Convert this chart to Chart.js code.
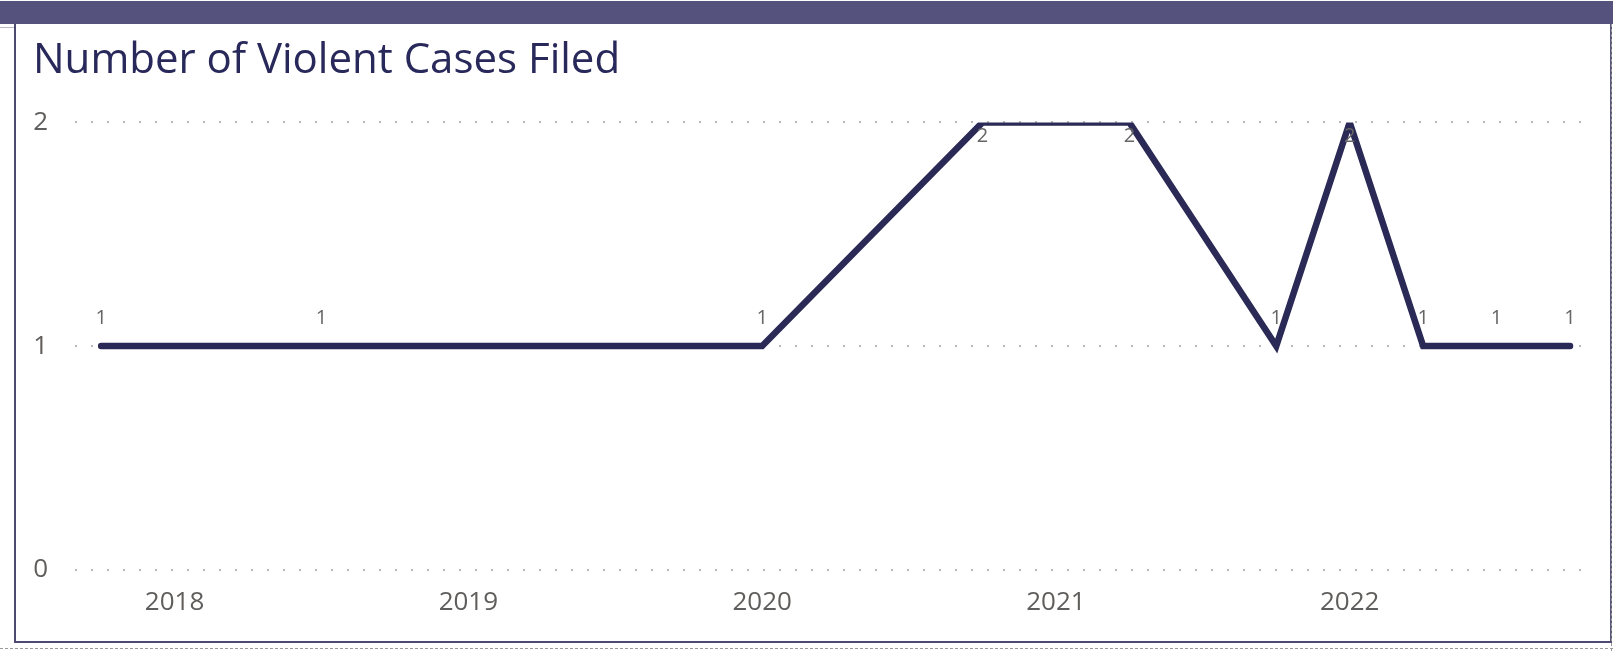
<!DOCTYPE html>
<html>
<head>
<meta charset="utf-8">
<script src="https://cdn.jsdelivr.net/npm/chart.js@4/dist/chart.umd.min.js"></script>
<style>
  html, body { margin: 0; padding: 0; background: #ffffff; }
  body { width: 1613px; height: 651px; position: relative; overflow: hidden; }
  #topbar { position: absolute; left: 0; top: 1px; width: 1613px; height: 23px; background: #56527e; }
  #tick { position: absolute; left: 0; top: 27px; width: 14px; height: 0; border-top: 1px solid #b8b8c4; }
  #card { position: absolute; left: 14px; top: 24px; width: 1594px; height: 617px;
          border-left: 2px solid #4d4a72; border-bottom: 2px solid #4d4a72; border-right: 2px solid #5a5878; }
  #dash { position: absolute; left: 0; top: 648px; width: 1613px; height: 0; border-top: 1px dashed #9a9a9a; }
  #vdash { position: absolute; left: 1611px; top: 24px; width: 0; height: 627px; border-left: 1px dashed #9a9a9a; }
  #wrap { position: absolute; left: 0; top: 0; width: 1613px; height: 651px; }
</style>
</head>
<body>
<div id="topbar"></div>
<div id="tick"></div>
<div id="card"></div>
<div id="dash"></div>
<div id="vdash"></div>
<div id="wrap"><canvas id="c" width="1613" height="651"></canvas></div>
<script>
// ---- data ----
const chartTitle = 'Number of Violent Cases Filed';
const periods = ['2017-Q4', '2018-Q3', '2020-Q1', '2020-Q4', '2021-Q2', '2021-Q4', '2022-Q1', '2022-Q2', '2022-Q3', '2022-Q4'];
const cases   = [1, 1, 1, 2, 2, 1, 2, 1, 1, 1];
const xTickYears = [2018, 2019, 2020, 2021, 2022];
const yTicks = [0, 1, 2];

function periodToYear(p) {
  const [y, q] = p.split('-Q');
  return Number(y) + (Number(q) - 1) / 4;
}
const points = periods.map((p, i) => ({ x: periodToYear(p), y: cases[i] }));

const dataLabelPlugin = {
  id: 'dataLabels',
  afterDatasetsDraw(chart) {
    const ctx = chart.ctx;
    const meta = chart.getDatasetMeta(0);
    const maxV = Math.max(...cases);
    ctx.save();
    ctx.font = '20px "Open Sans", "Noto Sans", sans-serif';
    ctx.fillStyle = '#666666';
    ctx.textAlign = 'center';
    ctx.textBaseline = 'middle';
    meta.data.forEach((el, i) => {
      const v = cases[i];
      const dy = v === maxV ? 14 : -28;
      ctx.fillText(String(v), el.x, el.y + dy);
    });
    ctx.restore();
  }
};

Chart.defaults.font.family = '"Open Sans", "Noto Sans", sans-serif';

new Chart(document.getElementById('c'), {
  type: 'line',
  data: {
    datasets: [{
      data: points,
      borderColor: '#2b2a56',
      borderWidth: 6.5,
      borderCapStyle: 'round',
      borderJoinStyle: 'miter',
      pointRadius: 0,
      pointHoverRadius: 0,
      tension: 0,
      fill: false
    }]
  },
  options: {
    responsive: false,
    animation: false,
    events: [],
    layout: { padding: { left: 33, top: 25, right: 18, bottom: 16 } },
    plugins: {
      legend: { display: false },
      tooltip: { enabled: false },
      title: {
        display: true,
        text: chartTitle,
        align: 'start',
        color: '#28285a',
        font: { size: 42, weight: 'normal', family: '"Open Sans", "Noto Sans", sans-serif' },
        padding: { top: 11, bottom: 36 }
      }
    },
    scales: {
      x: {
        type: 'linear',
        min: 2017.661,
        max: 2022.835,
        afterBuildTicks(axis) { axis.ticks = xTickYears.map(v => ({ value: v })); },
        grid: { display: false, drawTicks: false },
        border: { display: false },
        ticks: {
          color: '#605e5c',
          font: { size: 26 },
          padding: 17,
          autoSkip: false,
          maxRotation: 0,
          callback: v => String(v)
        }
      },
      y: {
        min: 0,
        max: 2,
        afterBuildTicks(axis) { axis.ticks = yTicks.map(v => ({ value: v })); },
        afterFit(axis) { axis.width = 42; },
        grid: { color: '#b8b8b8', lineWidth: 2, drawTicks: false },
        border: { display: false, dash: [2, 14] },
        ticks: {
          color: '#605e5c',
          font: { size: 26 },
          padding: 27,
          callback: v => String(v)
        }
      }
    }
  },
  plugins: [dataLabelPlugin]
});
</script>
</body>
</html>
